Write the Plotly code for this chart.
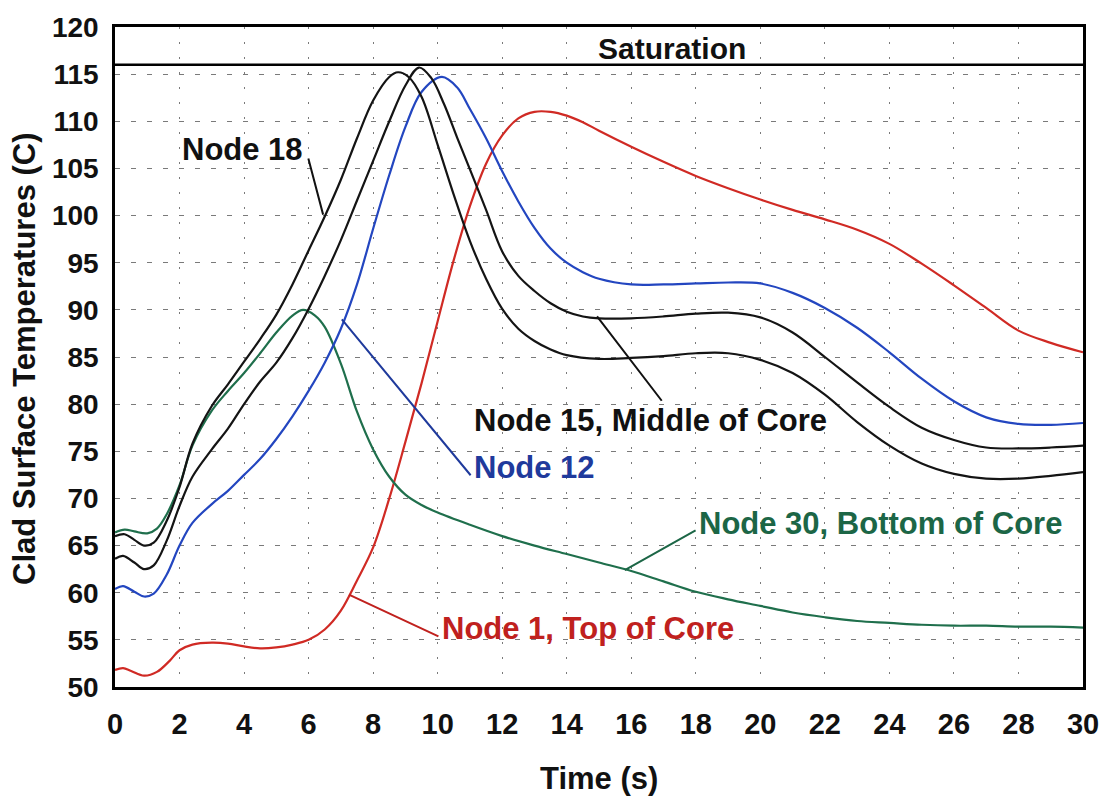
import plotly.graph_objects as go

# ---------------- data ----------------
node18_t = [0, 0.3, 0.6, 0.9, 1.2, 1.6, 2.0, 2.4, 3.0, 3.5, 4.0, 4.5, 5.0, 5.5, 6.0, 6.5, 7.0,
            7.5, 8.0, 8.5, 8.77, 9.1, 9.5, 10.0, 10.5, 11.0, 11.5, 12.0, 12.5, 13.0, 13.5, 14.0,
            15, 16, 17, 18, 19, 20, 21, 22, 23, 24, 25, 26, 27, 28, 29, 30]
node18_T = [66.0, 66.2, 65.6, 65.0, 65.3, 67.6, 71.2, 75.8, 79.8, 82.1, 84.5, 86.9, 89.5, 92.7,
            96.3, 99.9, 103.8, 108.2, 112.2, 114.7, 115.2, 114.7, 112.6, 107.5, 102.2, 97.3,
            93.3, 90.1, 88.0, 86.7, 85.8, 85.2, 84.8, 84.9, 85.1, 85.4, 85.4, 84.7, 83.3, 81.0,
            78.1, 75.6, 73.7, 72.6, 72.1, 72.1, 72.4, 72.8]

node15_t = [0, 0.25, 0.6, 0.9, 1.2, 1.6, 2.0, 2.4, 3.0, 3.5, 4.0, 4.5, 5.0, 5.5, 6.0, 6.5, 7.0,
            7.5, 8.0, 8.5, 9.0, 9.42, 9.8, 10.2, 10.6, 11.0, 11.5, 12.0, 12.5, 13.0, 13.5, 14.0,
            14.5, 15, 16, 17, 18, 19, 20, 21, 22, 23, 24, 25, 26, 27, 28, 29, 30]
node15_T = [63.6, 63.9, 63.2, 62.5, 62.9, 65.5, 69.2, 72.3, 75.2, 77.4, 80.0, 82.4, 84.4, 87.0,
            90.1, 93.6, 97.4, 101.6, 105.8, 110.0, 113.8, 115.7, 114.6, 111.8, 108.3, 104.9,
            100.6, 96.2, 93.6, 92.0, 90.7, 89.8, 89.3, 89.1, 89.1, 89.3, 89.6, 89.7, 89.2, 87.6,
            85.0, 82.3, 79.7, 77.5, 76.2, 75.4, 75.3, 75.4, 75.6]

node12_t = [0, 0.25, 0.6, 0.9, 1.2, 1.6, 2.0, 2.4, 3.0, 3.5, 4.0, 4.5, 5.0, 5.5, 6.0, 6.5, 7.0,
            7.5, 8.0, 8.5, 9.0, 9.5, 10.13, 10.6, 11.0, 11.5, 12.0, 12.5, 13.0, 13.5, 14.0, 14.5,
            15, 16, 17, 18, 19, 20, 21, 22, 23, 24, 25, 26, 27, 28, 29, 30]
node12_T = [60.4, 60.7, 60.1, 59.6, 59.9, 61.9, 65.0, 67.4, 69.4, 70.8, 72.5, 74.2, 76.3, 78.7,
            81.4, 84.4, 88.0, 92.7, 98.6, 104.3, 109.4, 113.1, 114.7, 113.6, 111.3, 108.2, 104.7,
            101.5, 98.7, 96.5, 95.0, 94.0, 93.3, 92.7, 92.7, 92.8, 92.9, 92.8, 91.8, 90.2, 88.1,
            85.5, 82.7, 80.3, 78.6, 77.9, 77.8, 78.0]

node30_t = [0, 0.3, 0.6, 1.0, 1.3, 1.6, 2.0, 2.4, 3.0, 3.5, 4.0, 4.5, 5.0, 5.5, 5.83, 6.2, 6.5,
            7.0, 7.5, 8.0, 8.5, 9.0, 9.5, 10.0, 11, 12, 13, 14, 15, 16, 17, 18, 19, 20, 21, 22,
            23, 24, 25, 26, 27, 28, 29, 30]
node30_T = [66.4, 66.7, 66.5, 66.3, 66.8, 68.3, 71.4, 75.6, 79.3, 81.4, 83.3, 85.4, 87.6, 89.4,
            90.0, 89.4, 88.2, 84.3, 79.2, 75.2, 72.3, 70.4, 69.3, 68.5, 67.2, 66.0, 65.0, 64.1,
            63.2, 62.3, 61.2, 60.1, 59.3, 58.6, 57.9, 57.4, 57.0, 56.8, 56.6, 56.5, 56.5, 56.4,
            56.4, 56.3]

node1_t = [0, 0.25, 0.5, 0.9, 1.3, 1.7, 2.0, 2.4, 3.0, 3.5, 4.0, 4.5, 5.0, 5.5, 6.0, 6.5, 7.0,
           7.5, 8.0, 8.5, 9.0, 9.5, 10.0, 10.5, 11.0, 11.5, 12.0, 12.5, 13.0, 13.5, 14.0, 14.5,
           15, 16, 17, 18, 19, 20, 21, 22, 23, 24, 25, 26, 27, 28, 29, 30]
node1_T = [51.8, 52.0, 51.7, 51.2, 51.6, 52.8, 53.9, 54.5, 54.7, 54.6, 54.3, 54.1, 54.2, 54.5,
           55.0, 56.1, 58.1, 61.3, 64.8, 70.0, 76.0, 82.2, 88.8, 95.3, 101.0, 105.5, 108.5,
           110.3, 111.0, 111.0, 110.6, 109.9, 109.0, 107.3, 105.7, 104.2, 102.9, 101.7, 100.6,
           99.6, 98.5, 97.0, 94.9, 92.6, 90.2, 87.8, 86.5, 85.5]

saturation_T = 116.0

x_ticks = list(range(0, 31, 2))
y_ticks = list(range(50, 121, 5))

# labels: (text, colour, label x, label y, anchor, leader end on curve x, y, leader start x, y)
labels = [
    ("Node 18", "#111111", 5.9, 107.0, "right", 6.45, 100.1, 5.98, 106.2),
    ("Node 15, Middle of Core", "#111111", 11.06, 78.3, "left", 14.94, 89.3, 16.98, 80.2),
    ("Node 12", "#1f3a9c", 11.06, 73.3, "left", 7.03, 89.0, 11.06, 72.3),
    ("Node 30, Bottom of Core", "#1c6646", 18.04, 67.3, "left", 15.8, 62.4, 18.04, 66.7),
    ("Node 1, Top of Core", "#c0211e", 10.07, 56.2, "left", 7.25, 59.8, 10.07, 55.3),
]

# ---------------- figure ----------------
FONT = "Arial, Liberation Sans, Helvetica, sans-serif"
fig = go.Figure()

series = [
    (node1_t, node1_T, "#d02a24"),
    (node30_t, node30_T, "#1f6f4c"),
    (node12_t, node12_T, "#2346c0"),
    (node15_t, node15_T, "#141414"),
    (node18_t, node18_T, "#141414"),
]
for t, T, c in series:
    fig.add_trace(go.Scatter(x=t, y=T, mode="lines",
                             line=dict(color=c, width=2.2, shape="spline", smoothing=1.0),
                             hoverinfo="skip", showlegend=False))

fig.add_shape(type="line", xref="x", yref="y", x0=0, x1=30, y0=saturation_T, y1=saturation_T,
              line=dict(color="black", width=2.5))

annotations = []
for text, col, lx, ly, anc, cx, cy, sx, sy in labels:
    annotations.append(dict(x=cx, y=cy, ax=sx, ay=sy, xref="x", yref="y", axref="x", ayref="y",
                            text="", showarrow=True, arrowhead=0, arrowwidth=2, arrowcolor=col))
    annotations.append(dict(x=lx, y=ly, xref="x", yref="y", text=text, showarrow=False,
                            xanchor=anc, yanchor="middle",
                            font=dict(family=FONT, size=31, color=col, weight="bold")))

annotations.append(dict(x=17.26, y=117.7, xref="x", yref="y", text="Saturation", showarrow=False,
                        xanchor="center", yanchor="middle",
                        font=dict(family=FONT, size=30, color="#111111", weight="bold")))
annotations.append(dict(x=0.5, y=-0.139, xref="paper", yref="paper", text="Time (s)",
                        showarrow=False, xanchor="center", yanchor="middle",
                        font=dict(family=FONT, size=31, color="#111111", weight="bold")))
annotations.append(dict(x=-0.093, y=0.4985, xref="paper", yref="paper",
                        text="Clad Surface Temperatures (C)", textangle=-90,
                        showarrow=False, xanchor="center", yanchor="middle",
                        font=dict(family=FONT, size=31, color="#111111", weight="bold")))

fig.update_layout(
    width=1117, height=801,
    margin=dict(l=115, r=34, t=21, b=114),
    paper_bgcolor="white", plot_bgcolor="white",
    annotations=annotations,
    font=dict(family=FONT, color="#111111"),
)
fig.update_xaxes(range=[0, 30], tickvals=x_ticks, ticktext=[str(v) for v in x_ticks],
                 showgrid=True, gridcolor="#7a7a7a", gridwidth=1, griddash="2px,13px",
                 zeroline=False, showline=True, linecolor="black", linewidth=2.5, mirror=True,
                 ticks="", ticklabelstandoff=9,
                 tickfont=dict(family=FONT, size=29, color="#111111", weight="bold"))
fig.update_yaxes(range=[50, 120], tickvals=y_ticks, ticktext=[str(v) for v in y_ticks],
                 showgrid=True, gridcolor="#7a7a7a", gridwidth=1, griddash="5px,11px",
                 zeroline=False, showline=True, linecolor="black", linewidth=2.5, mirror=True,
                 ticks="", ticklabelstandoff=8,
                 tickfont=dict(family=FONT, size=28, color="#111111", weight="bold"))

fig.write_html("out.html")
